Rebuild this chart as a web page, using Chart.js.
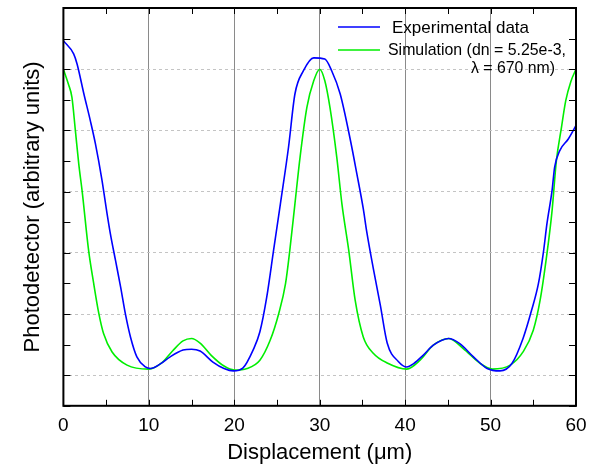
<!DOCTYPE html>
<html lang="en">
<head>
  <meta charset="UTF-8">
  <title>Photodetector vs displacement</title>
  <script src="https://cdn.jsdelivr.net/npm/chart.js"></script>
  <style>
    html, body {
      margin: 0;
      padding: 0;
      background: #ffffff;
    }
    #wrap {
      width: 590px;
      height: 467px;
    }
  </style>
</head>
<body>
<div id="wrap"><canvas id="chart" width="590" height="467"></canvas></div>

<script>
  // measured curve (blue)
  const expX = [0, 1.2, 1.6, 2.4, 3.15, 3.75, 4.5, 5.1, 5.5, 6.1, 6.7, 7.25, 7.85, 8.6, 9.6, 10.2, 11.3, 12.5, 14.0, 15.0,
    16.0, 17.5, 18.8, 19.9, 21.0, 22.2, 23.0, 23.8, 24.6, 25.4, 26.35, 27.1, 28.1, 29.3, 30.6, 31.4, 32.4, 33.6, 34.35,
    35.1, 35.5, 36.3, 37.1, 37.9, 39.2, 40.2, 41.0, 42.1, 43.3, 45.1, 46.4, 48.0, 49.6, 51.1, 52.5, 53.8, 54.8, 55.6,
    56.2, 56.6, 57.2, 57.5, 58.1, 59.1, 60];
  const expY = [1.093, 1.05, 1.017, 0.919, 0.832, 0.756, 0.64, 0.53, 0.462, 0.375, 0.288, 0.201, 0.125, 0.06, 0.027, 0.022,
    0.036, 0.06, 0.082, 0.085, 0.079, 0.043, 0.022, 0.014, 0.023, 0.082, 0.142, 0.255, 0.408, 0.56, 0.745, 0.919, 0.995,
    1.037, 1.033, 0.995, 0.919, 0.767, 0.658, 0.544, 0.47, 0.345, 0.228, 0.105, 0.045, 0.027, 0.038, 0.065, 0.098, 0.12,
    0.103, 0.06, 0.022, 0.014, 0.038, 0.12, 0.212, 0.299, 0.405, 0.495, 0.604, 0.68, 0.734, 0.772, 0.816];

  // simulation (green)
  const simX = [0, 0.6, 1.0, 1.4, 1.8, 2.2, 2.95, 3.55, 4.15, 4.7, 5.7, 7.45, 10.0, 11.5, 12.8, 14.0, 15.0, 16.0, 17.3,
    18.8, 20.0, 21.5, 23.0, 24.2, 25.2, 26.0, 26.5, 27.1, 27.7, 28.5, 29.3, 30.0, 30.6, 31.2, 32.0, 32.6, 33.4, 34.15,
    35.1, 36.3, 37.9, 40.2, 41.75, 43.3, 45.1, 46.8, 48.8, 50.2, 52.3, 53.8, 55.0, 55.8, 56.6, 57.2, 57.7, 58.3, 58.8,
    59.4, 60];
  const simY = [1.0, 0.95, 0.908, 0.8, 0.69, 0.6, 0.408, 0.299, 0.201, 0.136, 0.076, 0.033, 0.02, 0.04, 0.08, 0.112, 0.12,
    0.105, 0.065, 0.03, 0.017, 0.022, 0.049, 0.114, 0.201, 0.299, 0.408, 0.56, 0.712, 0.875, 0.962, 1.0, 0.962, 0.875,
    0.712, 0.56, 0.408, 0.245, 0.125, 0.071, 0.04, 0.02, 0.049, 0.098, 0.12, 0.087, 0.038, 0.02, 0.033, 0.076, 0.147,
    0.245, 0.397, 0.538, 0.7, 0.81, 0.897, 0.96, 1.0];

  const legendLabels = ['Experimental data', 'Simulation (dn = 5.25e-3,', '\u03bb = 670 nm)'];
  const xTitle = 'Displacement (\u03bcm)';
  const yTitle = 'Photodetector (arbitrary units)';

  const FONT = '"Liberation Sans", Arial, sans-serif';

  function toPoints(xs, ys) {
    return xs.map((x, i) => ({ x: x, y: ys[i] }));
  }

  // frame, inward ticks and legend
  const decor = {
    id: 'decor',
    beforeDraw(chart) {
      const ctx = chart.ctx;
      ctx.save();
      ctx.fillStyle = '#ffffff';
      ctx.fillRect(0, 0, chart.width, chart.height);
      ctx.restore();
    },
    afterDraw(chart) {
      const ctx = chart.ctx;
      const a = chart.chartArea;
      const xs = chart.scales.x;
      const ys = chart.scales.y;
      ctx.save();
      ctx.strokeStyle = '#000000';
      ctx.lineWidth = 1;
      ctx.beginPath();
      for (let v = 0; v <= 60; v += 5) {
        const px = Math.round(xs.getPixelForValue(v)) + 0.5;
        ctx.moveTo(px, a.bottom);
        ctx.lineTo(px, a.bottom - 6);
        ctx.moveTo(px, a.top);
        ctx.lineTo(px, a.top + 6);
      }
      for (let k = -1; k <= 12; k++) {
        const py = Math.round(ys.getPixelForValue(k / 10)) + 0.5;
        ctx.moveTo(a.left, py);
        ctx.lineTo(a.left + 7, py);
        ctx.moveTo(a.right, py);
        ctx.lineTo(a.right - 7, py);
      }
      ctx.stroke();

      ctx.lineWidth = 2;
      ctx.strokeRect(a.left, a.top, a.right - a.left, a.bottom - a.top);

      // legend
      const ds = chart.data.datasets;
      ctx.lineWidth = 1.5;
      ctx.strokeStyle = ds[0].borderColor;
      ctx.beginPath();
      ctx.moveTo(338, 27);
      ctx.lineTo(380, 27);
      ctx.stroke();
      ctx.strokeStyle = ds[1].borderColor;
      ctx.beginPath();
      ctx.moveTo(338, 50);
      ctx.lineTo(380, 50);
      ctx.stroke();

      ctx.fillStyle = '#000000';
      ctx.font = '17px ' + FONT;
      ctx.textBaseline = 'middle';
      ctx.textAlign = 'left';
      ctx.fillText(legendLabels[0], 392, 28);
      ctx.fillText(legendLabels[1], 388, 50, 178);
      ctx.font = '16px ' + FONT;
      ctx.fillText(legendLabels[2], 471, 69, 84);
      ctx.restore();
    }
  };

  const ctx = document.getElementById('chart').getContext('2d');
  const chart = new Chart(ctx, {
    type: 'line',
    data: {
      datasets: [
        {
          label: legendLabels[0],
          data: toPoints(expX, expY),
          borderColor: '#0000ff',
          borderWidth: 1.6,
          pointRadius: 0,
          fill: false,
          cubicInterpolationMode: 'monotone'
        },
        {
          label: legendLabels[1],
          data: toPoints(simX, simY),
          borderColor: '#00ee00',
          borderWidth: 1.6,
          pointRadius: 0,
          fill: false,
          cubicInterpolationMode: 'monotone'
        }
      ]
    },
    options: {
      responsive: false,
      animation: false,
      layout: {
        padding: { left: 20, right: 14, top: 8, bottom: 1 }
      },
      plugins: {
        legend: { display: false },
        tooltip: { enabled: false }
      },
      scales: {
        x: {
          type: 'linear',
          min: 0,
          max: 60,
          ticks: {
            stepSize: 10,
            color: '#000000',
            padding: 0,
            font: { family: FONT, size: 19 }
          },
          grid: {
            drawTicks: true,
            tickLength: 9,
            tickColor: 'rgba(0,0,0,0)',
            lineWidth: 1,
            color: c => (c.tick && c.tick.value > 0 && c.tick.value < 60) ? '#8a8a8a' : 'rgba(0,0,0,0)'
          },
          border: { display: false },
          title: {
            display: true,
            text: xTitle,
            color: '#000000',
            padding: { top: 2, bottom: 0 },
            font: { family: FONT, size: 22 }
          }
        },
        y: {
          type: 'linear',
          min: -0.1,
          max: 1.2,
          ticks: {
            stepSize: 0.1,
            display: false
          },
          grid: {
            drawTicks: false,
            lineWidth: 1,
            color: c => {
              const k = Math.round(c.tick.value * 10);
              return (k >= 0 && k <= 10 && k % 2 === 0) ? '#c4c4c4' : 'rgba(0,0,0,0)';
            }
          },
          border: { display: false, dash: [3, 3] },
          title: {
            display: true,
            text: yTitle,
            color: '#000000',
            padding: { top: 0, bottom: 17 },
            font: { family: FONT, size: 22 }
          }
        }
      }
    },
    plugins: [decor]
  });
</script>
</body>
</html>
